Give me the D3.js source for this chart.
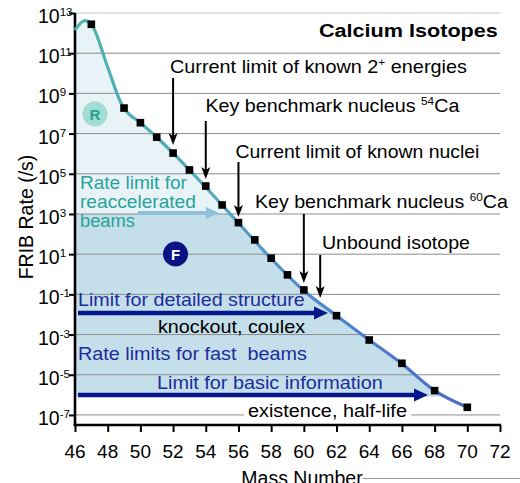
<!DOCTYPE html>
<html><head><meta charset="utf-8">
<script src="https://cdn.jsdelivr.net/npm/d3@7"></script>
<style>
body{margin:0;background:#fff;}
svg{display:block;font-family:"Liberation Sans",Arial,Helvetica,sans-serif;}
</style>
</head><body>
<svg id="chart" width="520" height="483"></svg>
<script>
// ---- data ----
const massNumbers   = [47, 49, 50, 51, 52, 53, 54, 55, 56, 57, 58, 59, 60, 62, 64, 66, 68, 70];
const log10Rates    = [12.44, 8.27, 7.54, 6.82, 6.03, 5.19, 4.39, 3.45, 2.57, 1.71, 0.80, -0.03, -0.78, -2.06, -3.27, -4.43, -5.79, -6.62];
const curveMass     = [46, 46.6, 47, 48, 48.8, 49, 50, 51, 52, 54, 56, 58, 60, 62, 64, 66, 68, 70];
const curveLog10Rate= [12.15, 12.62, 12.44, 10.3, 8.55, 8.27, 7.54, 6.82, 6.03, 4.33, 2.55, 0.78, -0.82, -2.06, -3.27, -4.45, -5.79, -6.62];
const xTickValues   = [46, 48, 50, 52, 54, 56, 58, 60, 62, 64, 66, 68, 70, 72];
const yTickExponents= [13, 11, 9, 7, 5, 3, 1, -1, -3, -5, -7];
const reaccelLimitExp = 3;
const fastLimitExp = -6.1;
const pointerMass = [52, 54, 56, 60, 61];

// ---- layout ----
const svg = d3.select("#chart");
const x = d3.scaleLinear().domain([46, 72]).range([75, 500]);
const y = d3.scaleLog().domain([Math.pow(10, -7.5), 1e13]).range([425, 13]);

const points = massNumbers.map((m, i) => ({m, r: Math.pow(10, log10Rates[i])}));
const curve = curveMass.map((m, i) => ({m, r: Math.pow(10, curveLog10Rate[i])}));

const defs = svg.append("defs");
defs.append("clipPath").attr("id", "clipLight").append("rect")
  .attr("x", x(46)).attr("y", y(1e13)).attr("width", x(72) - x(46))
  .attr("height", y(Math.pow(10, reaccelLimitExp)) - y(1e13));
defs.append("clipPath").attr("id", "clipDark").append("rect")
  .attr("x", x(46)).attr("y", y(Math.pow(10, reaccelLimitExp))).attr("width", x(72) - x(46))
  .attr("height", y(Math.pow(10, fastLimitExp)) - y(Math.pow(10, reaccelLimitExp)));
const grad = defs.append("linearGradient").attr("id", "lineGrad")
  .attr("gradientUnits", "userSpaceOnUse")
  .attr("x1", 0).attr("x2", 0).attr("y1", y(1e12)).attr("y2", y(1e-6));
grad.append("stop").attr("offset", "0").attr("stop-color", "#4cb5ae");
grad.append("stop").attr("offset", "0.45").attr("stop-color", "#55a6bf");
grad.append("stop").attr("offset", "0.7").attr("stop-color", "#4f8ccb");
grad.append("stop").attr("offset", "1").attr("stop-color", "#4a70c8");

const area = d3.area().x(d => x(d.m)).y0(425).y1(d => y(d.r)).curve(d3.curveMonotoneX);
svg.append("path").datum(curve).attr("d", area).attr("fill", "#e8f3f7").attr("clip-path", "url(#clipLight)");
svg.append("path").datum(curve).attr("d", area).attr("fill", "#c4deea").attr("clip-path", "url(#clipDark)");

// gridlines
svg.append("g").selectAll("line").data(yTickExponents).join("line")
  .attr("x1", x(46)).attr("x2", x(72))
  .attr("y1", e => y(Math.pow(10, e))).attr("y2", e => y(Math.pow(10, e)))
  .attr("stroke", e => e === 13 ? "#c4c4c4" : "#8c8c8c").attr("stroke-width", 1);

// mass number label underline artifact
svg.append("line").attr("x1", 363).attr("x2", 520).attr("y1", 478.5).attr("y2", 478.5)
  .attr("stroke", "#999").attr("stroke-width", 1);

// axes
const yAxis = d3.axisLeft(y).tickValues(yTickExponents.map(e => Math.pow(10, e))).tickSize(6).tickFormat("");
const gy = svg.append("g").attr("transform", `translate(${x(46)},0)`).call(yAxis);
const xAxis = d3.axisBottom(x).tickValues(xTickValues).tickSize(7).tickFormat("");
const gx = svg.append("g").attr("transform", `translate(0,${y(Math.pow(10,-7.5))})`).call(xAxis);
[gx, gy].forEach(g => {
  g.select(".domain").attr("stroke", "#000").attr("stroke-width", 2.6);
  g.selectAll(".tick line").attr("stroke", "#000").attr("stroke-width", 2);
});
gy.select(".domain").attr("d", `M0,${y(1e13)}V${y(Math.pow(10,-7.5))+1.3}`);
gx.select(".domain").attr("d", `M${x(46)-1.3},0H${x(72)+1}`);

// x tick labels
svg.append("g").selectAll("text").data(xTickValues).join("text")
  .attr("x", d => x(d)).attr("y", 458).attr("text-anchor", "middle")
  .attr("font-size", 19).attr("fill", "#000").text(d => d);

// y tick labels
const yl = svg.append("g").selectAll("text").data(yTickExponents).join("text")
  .attr("x", 38).attr("y", e => y(Math.pow(10, e)) + 10).attr("font-size", 19.5).attr("fill", "#000");
yl.append("tspan").text("10");
yl.append("tspan").attr("font-size", 11.5).attr("dy", -7).text(e => e);

// axis titles
svg.append("text").attr("transform", "translate(33,217) rotate(-90)")
  .attr("text-anchor", "middle").attr("font-size", 19.5).text("FRIB Rate (/s)");
svg.append("text").attr("x", 302).attr("y", 485).attr("text-anchor", "middle")
  .attr("font-size", 19.5).text("Mass Number");

// curve line and points
const line = d3.line().x(d => x(d.m)).y(d => y(d.r)).curve(d3.curveMonotoneX);
svg.append("path").datum(curve).attr("d", line).attr("fill", "none")
  .attr("stroke", "url(#lineGrad)").attr("stroke-width", 3.2).attr("stroke-linejoin", "round");
svg.append("g").selectAll("rect").data(points).join("rect")
  .attr("x", d => x(d.m) - 3.8).attr("y", d => y(d.r) - 3.8)
  .attr("width", 7.6).attr("height", 7.6).attr("fill", "#000");

// arrows
function hArrow(x0, x1, yy, color, w, hl, hw) {
  svg.append("line").attr("x1", x0).attr("x2", x1 - hl + 1).attr("y1", yy).attr("y2", yy)
    .attr("stroke", color).attr("stroke-width", w);
  svg.append("path").attr("d", `M${x1},${yy}L${x1-hl},${yy-hw}L${x1-hl},${yy+hw}Z`).attr("fill", color);
}
function vArrow(xx, y0, y1, color) {
  svg.append("line").attr("x1", xx).attr("x2", xx).attr("y1", y0).attr("y2", y1 - 9)
    .attr("stroke", color).attr("stroke-width", 2);
  svg.append("path").attr("d", `M${xx},${y1}L${xx-4.5},${y1-12}L${xx},${y1-9}L${xx+4.5},${y1-12}Z`).attr("fill", color);
}
hArrow(138, 219, 213, "#8fc1dc", 4, 13, 6);
hArrow(78, 328, 313, "#07168a", 4.5, 14, 6.5);
hArrow(78, 428, 395, "#07168a", 4.5, 14, 6.5);

const pointerStart = [78, 121, 162, 214, 255];
const pointerTip = [145, 179, 217, 283, 298];
pointerMass.forEach((m, i) => vArrow(x(m), pointerStart[i], pointerTip[i], "#000"));

// circles R and F
svg.append("circle").attr("cx", 95).attr("cy", 114).attr("r", 12.5).attr("fill", "#a2dcd3");
svg.append("text").attr("x", 95).attr("y", 119.5).attr("text-anchor", "middle")
  .attr("font-size", 15).attr("font-weight", "bold").attr("fill", "#24a196").text("R");
svg.append("circle").attr("cx", 175.5).attr("cy", 254).attr("r", 12.5).attr("fill", "#0b1283");
svg.append("text").attr("x", 175.5).attr("y", 259.5).attr("text-anchor", "middle")
  .attr("font-size", 15).attr("font-weight", "bold").attr("fill", "#fff").text("F");

// text annotations
const notes = [
  {parts: ["Calcium Isotopes"], x: 319, y: 37, w: 179, fs: 18, bold: true, c: "#000"},
  {parts: ["Current limit of known 2", "^+", " energies"], x: 170, y: 73, w: 297, fs: 18, c: "#000"},
  {parts: ["Key benchmark nucleus ", "^54", "Ca"], x: 205.5, y: 112, w: 255, fs: 18, c: "#000"},
  {parts: ["Current limit of known nuclei"], x: 235.5, y: 158, w: 244, fs: 18, c: "#000"},
  {parts: ["Key benchmark nucleus ", "^60", "Ca"], x: 255, y: 208, w: 254, fs: 18, c: "#000"},
  {parts: ["Unbound isotope"], x: 322, y: 249, w: 148, fs: 18.5, c: "#000"},
  {parts: ["Rate limit for"], x: 80, y: 189, w: 107, fs: 18, c: "#27a399"},
  {parts: ["reaccelerated"], x: 80, y: 208, w: 116, fs: 18, c: "#27a399"},
  {parts: ["beams"], x: 80, y: 227, w: 55, fs: 18, c: "#27a399"},
  {parts: ["Limit for detailed structure"], x: 78, y: 306, w: 227, fs: 18.5, c: "#1b2d9c"},
  {parts: ["knockout, coulex"], x: 158, y: 333, w: 148, fs: 18.5, c: "#000"},
  {parts: ["Rate limits for fast  beams"], x: 78, y: 360, w: 229, fs: 18.5, c: "#1b2d9c"},
  {parts: ["Limit for basic information"], x: 157, y: 389, w: 226, fs: 18.5, c: "#1b2d9c"},
  {parts: ["existence, half-life"], x: 248, y: 417, w: 159, fs: 18.5, c: "#000", bg: true}
];
notes.forEach(n => {
  const g = svg.append("g");
  const t = g.append("text").attr("x", n.x).attr("y", n.y).attr("font-size", n.fs)
    .attr("fill", n.c).attr("font-weight", n.bold ? "bold" : "normal").style("white-space", "pre");
  let shifted = false;
  n.parts.forEach(p => {
    if (p.startsWith("^")) {
      t.append("tspan").attr("font-size", n.fs * 0.6).attr("dy", -n.fs * 0.38).text(p.slice(1));
      shifted = true;
    } else {
      const ts = t.append("tspan").text(p);
      if (shifted) { ts.attr("dy", n.fs * 0.38); shifted = false; }
    }
  });
  const bb = t.node().getBBox();
  const s = n.w / bb.width;
  g.attr("transform", `translate(${n.x},0) scale(${s},1) translate(${-n.x},0)`);
  if (n.bg) {
    g.insert("rect", "text").attr("x", bb.x - 4).attr("y", bb.y + 2).attr("width", bb.width + 8)
      .attr("height", bb.height - 4).attr("fill", "#fff");
  }
});
</script>
</body></html>
